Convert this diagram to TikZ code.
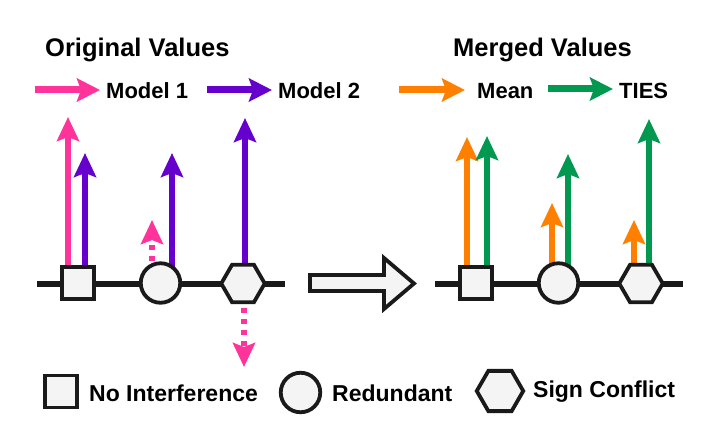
\documentclass[tikz,border=0pt]{standalone}
\usepackage{fontspec}
\setmainfont{Liberation Sans}
\usetikzlibrary{arrows.meta,shapes.geometric,backgrounds}

\begin{document}
\begin{tikzpicture}[
        x=1pt, y=-1pt,
        axis/.style={line width=6pt,draw=edge},
        shp/.style={draw=edge,fill=shade,line width=3.8pt,inner sep=0pt},
        sqbox/.style={shp,rectangle,minimum size=32pt},
        cibox/.style={shp,circle,minimum size=39.5pt},
        hxbox/.style={shp,regular polygon,regular polygon sides=6,minimum size=43.5pt},
        vec/.style={line width=6pt,-{Stealth[length=24pt,width=22pt,inset=4pt]}},
        dvec/.style={vec,dash pattern=on 5pt off 6pt},
        key/.style={line width=7pt,shorten >=6pt,-{Stealth[length=23pt,width=23pt,inset=4pt]}},
        ttl/.style={font=\bfseries\fontsize{25.5}{30}\selectfont,anchor=base west,inner sep=0pt},
        lbl/.style={font=\bfseries\fontsize{22}{26}\selectfont,anchor=base west,inner sep=0pt},
        keylbl/.style={font=\bfseries\fontsize{23}{27}\selectfont,anchor=base west,inner sep=0pt}
    ]
    \definecolor{edge}{HTML}{1A1A1A}
    \definecolor{shade}{HTML}{F4F4F4}
    \definecolor{mone}{HTML}{FF3399}
    \definecolor{mtwo}{HTML}{6600CC}
    \definecolor{mmean}{HTML}{FF8000}
    \definecolor{mties}{HTML}{00994F}
    \useasboundingbox (0,0) rectangle (726,444);

    % titles and colour keys
    \node [ttl] (tOrig) at (45,57) {Original Values};
    \node [ttl] (tMerged) at (453,57) {Merged Values};
    \node [lbl] (lOne) at (106,99) {Model 1};
    \node [lbl] (lTwo) at (278,99) {Model 2};
    \node [lbl] (lMean) at (477,99) {Mean};
    \node [lbl] (lTies) at (619,99) {TIES};
    \coordinate (kOne) at (35,90);
    \coordinate (kTwo) at (207,90);
    \coordinate (kMean) at (399,90);
    \coordinate (kTies) at (548,89);
    \draw [key,mone] (kOne) -- (kOne -| lOne.west);
    \draw [key,mtwo] (kTwo) -- (kTwo -| lTwo.west);
    \draw [key,mmean,shorten >=12pt] (kMean) -- (kMean -| lMean.west);
    \draw [key,mties] (kTies) -- (kTies -| lTies.west);

    % axes with the three kinds of entries
    \foreach \p/\dx in {L/0,R/398} {
        \begin{scope}[xshift=\dx]
            \draw [axis] (37,284) -- (285,284);
            \node [sqbox] (sq\p) at (78,283) {};
            \node [cibox] (ci\p) at (160.5,283) {};
            \node [hxbox] (hx\p) at (243,283.5) {};
        \end{scope}
    }

    % tips of the value arrows
    \coordinate (pA) at (68,117);
    \coordinate (vA) at (85,153);
    \coordinate (pB) at (152,220);
    \coordinate (vB) at (172,153);
    \coordinate (vC) at (245,118);
    \coordinate (pC) at (244,367);
    \coordinate (oA) at (467,137);
    \coordinate (gA) at (487,136);
    \coordinate (oB) at (552,203);
    \coordinate (gB) at (568,154);
    \coordinate (oC) at (634,220);
    \coordinate (gC) at (649,119);

    \begin{pgfonlayer}{background}
        \draw [vec,mone] (pA |- sqL) -- (pA);
        \draw [vec,mtwo] (vA |- sqL) -- (vA);
        \draw [vec,mtwo] (vB |- ciL) -- (vB);
        \draw [vec,mtwo] (vC |- hxL) -- (vC);
        \draw [vec,mmean] (oA |- sqR) -- (oA);
        \draw [vec,mties] (gA |- sqR) -- (gA);
        \draw [vec,mmean] (oB |- ciR) -- (oB);
        \draw [vec,mties] (gB |- ciR) -- (gB);
        \draw [vec,mmean] (oC |- hxR) -- (oC);
        \draw [vec,mties] (gC |- hxR) -- (gC);
    \end{pgfonlayer}
    \draw [dvec,mone] (pB |- ciL.north) -- (pB);
    \draw [dvec,mone,shorten <=4pt] (pC |- hxL.south) -- (pC);

    % merge arrow
    \draw [shp] (310,275) -- (384,275) -- (384,258) -- (414,283.5)
        -- (384,309) -- (384,291) -- (310,291) -- cycle;

    % legend
    \node [sqbox] (kSq) at (61,391.5) {};
    \node [keylbl] (kSqT) at (89,401) {No Interference};
    \node [cibox] (kCi) at (300.5,392.5) {};
    \node [keylbl] (kCiT) at (332,401) {Redundant};
    \node [hxbox,minimum size=46.5pt] (kHx) at (500,391) {};
    \node [keylbl] (kHxT) at (533,397) {Sign Conflict};
\end{tikzpicture}
\end{document}
